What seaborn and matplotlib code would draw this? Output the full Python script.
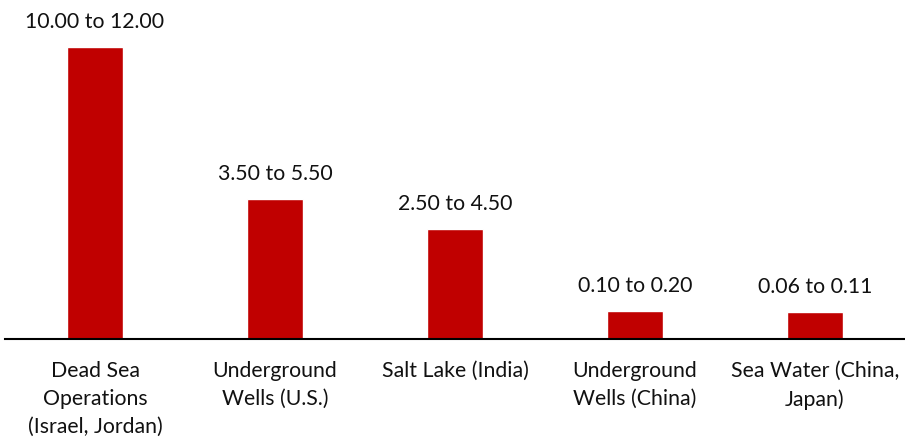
import matplotlib
matplotlib.use("Agg")
import matplotlib.pyplot as plt
import seaborn as sns
import pandas as pd

sources = [
    "Dead Sea\nOperations\n(Israel, Jordan)",
    "Underground\nWells (U.S.)",
    "Salt Lake (India)",
    "Underground\nWells (China)",
    "Sea Water (China,\nJapan)",
]
range_labels = ["10.00 to 12.00", "3.50 to 5.50", "2.50 to 4.50", "0.10 to 0.20", "0.06 to 0.11"]
bar_heights = [12.0, 5.75, 4.52, 1.15, 1.11]

df = pd.DataFrame({"source": sources, "height": bar_heights, "label": range_labels})

sns.set_theme(style="white")
plt.rcParams["font.family"] = ["Lato", "DejaVu Sans"]

fig = plt.figure(figsize=(9.05, 4.4), dpi=100)
ax = fig.add_axes([5 / 905, 101 / 440, 900 / 905, 339 / 440])

sns.barplot(data=df, x="source", y="height", color="#C00000", width=0.31,
            saturation=1, ax=ax)

for i, (h, lab) in enumerate(zip(df["height"], df["label"])):
    ax.annotate(lab, (i, h), xytext=(0, 25), textcoords="offset pixels",
                ha="center", va="center", fontsize=15.3, color="#111111")

ax.set_xlim(-0.5, 4.5)
ax.set_ylim(0, 12 * 339 / 292)
ax.set_xlabel("")
ax.set_ylabel("")
ax.set_yticks([])
for side in ["left", "right", "top"]:
    ax.spines[side].set_visible(False)
ax.spines["bottom"].set_color("black")
ax.spines["bottom"].set_linewidth(1.5)
ax.tick_params(axis="x", length=0, pad=16, labelsize=15.3, labelcolor="#111111")
for t in ax.get_xticklabels():
    t.set_linespacing(1.5)
    t.set_verticalalignment("top")

fig.savefig("out.png", dpi=100)
